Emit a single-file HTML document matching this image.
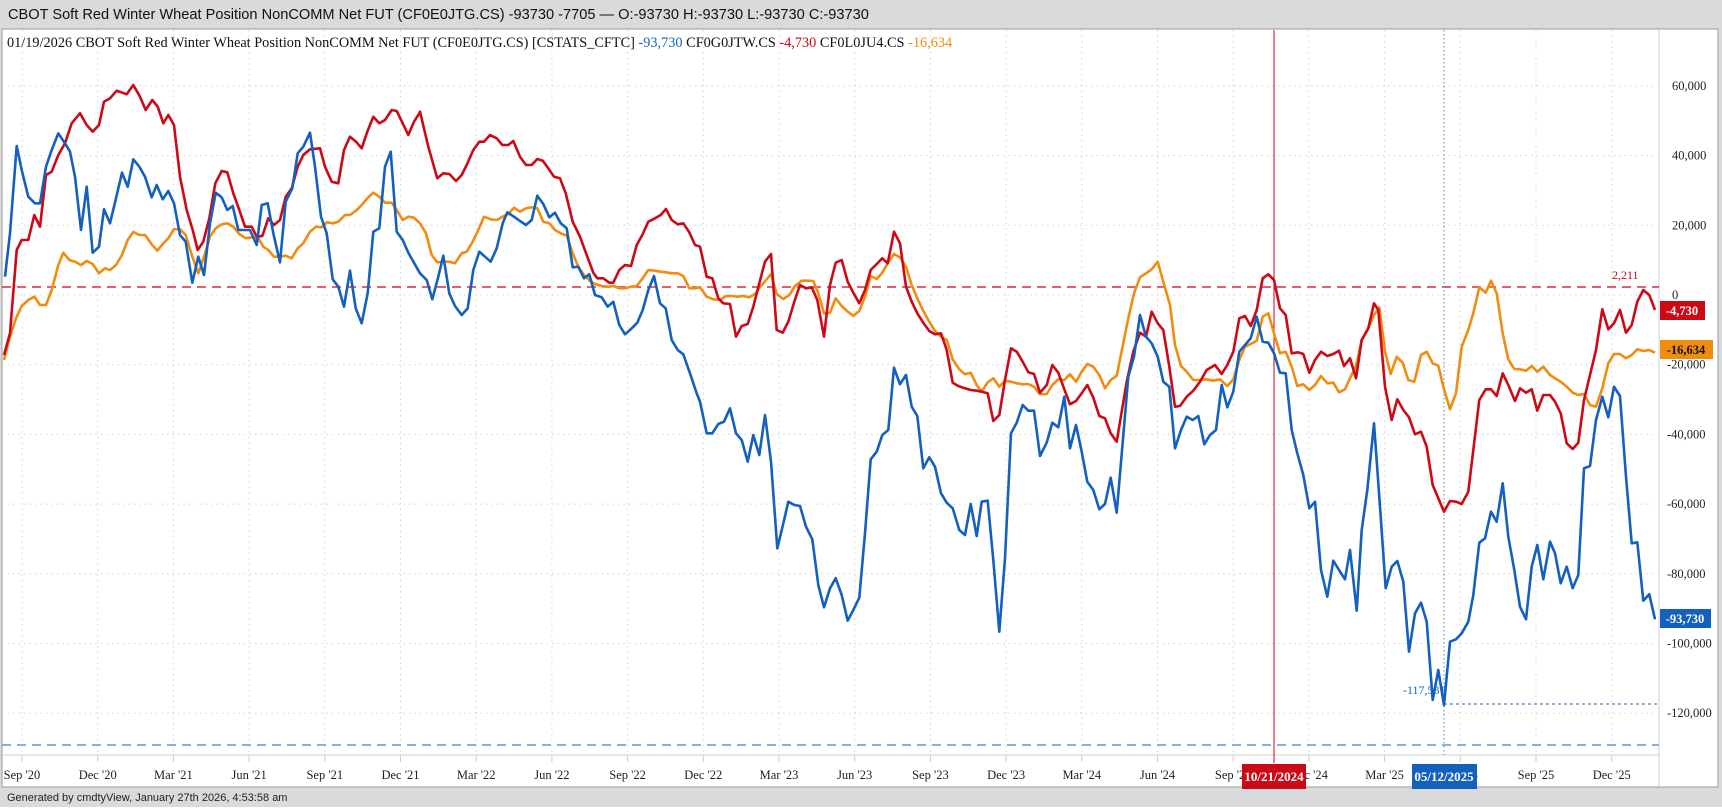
<!DOCTYPE html>
<html><head><meta charset="utf-8">
<style>
html,body{margin:0;padding:0;background:#fff;}
body{width:1722px;height:807px;overflow:hidden;}
svg text{font-family:"Liberation Serif",serif;}
</style></head>
<body>
<svg id="s" width="1722" height="807" viewBox="0 0 1722 807" xmlns="http://www.w3.org/2000/svg">
<rect x="0" y="0" width="1722" height="807" fill="#d9dadc"/>
<rect x="2" y="29" width="1716" height="758" fill="#fff" stroke="#9a9a9a" stroke-width="1"/>
<text x="8" y="19" font-size="14.6" fill="#111" style="font-family:'Liberation Sans',sans-serif">CBOT Soft Red Winter Wheat Position NonCOMM Net FUT (CF0E0JTG.CS) -93730 -7705 — O:-93730 H:-93730 L:-93730 C:-93730</text>
<line x1="1659" y1="29" x2="1659" y2="787" stroke="#cfcfcf"/>
<line x1="2" y1="755" x2="1659" y2="755" stroke="#cfcfcf"/>
<g id="grid"></g>
<text x="7" y="47" font-size="14.3" fill="#111">01/19/2026 CBOT Soft Red Winter Wheat Position NonCOMM Net FUT (CF0E0JTG.CS) [CSTATS_CFTC] <tspan fill="#1565c0">-93,730</tspan> CF0G0JTW.CS <tspan fill="#d0021b">-4,730</tspan> CF0L0JU4.CS <tspan fill="#f08c10">-16,634</tspan></text>
<line x1="2" y1="287" x2="1659" y2="287" stroke="#d0021b" stroke-dasharray="9,6" stroke-width="1.2"/>
<text x="1612" y="279" font-size="12" fill="#d0021b">2,211</text>
<line x1="2" y1="745" x2="1659" y2="745" stroke="#7aa3dc" stroke-dasharray="9,6" stroke-width="1.8"/>
<line x1="1444" y1="704" x2="1659" y2="704" stroke="#4a85d4" stroke-dasharray="3,3" stroke-width="1.2"/>
<text x="1403" y="694" font-size="12" fill="#1565c0">-117,531</text>
<line x1="1444" y1="30" x2="1444" y2="755" stroke="#4a85d4" stroke-dasharray="1.5,2.5" stroke-width="1"/>
<line x1="1274" y1="30" x2="1274" y2="763" stroke="#d0021b" stroke-width="1"/>
<g id="series" fill="none" stroke-width="2.6" stroke-linejoin="round"></g>
<g id="ylab" font-size="12.5" fill="#222"></g>
<rect x="1660" y="301" width="45" height="19" fill="#cc0a17"/>
<text x="1682" y="315" font-size="12.5" fill="#fff" font-weight="bold" text-anchor="middle">-4,730</text>
<rect x="1660" y="340" width="53" height="19" fill="#f08c10"/>
<text x="1686" y="354" font-size="12.5" fill="#111" font-weight="bold" text-anchor="middle">-16,634</text>
<rect x="1660" y="609" width="51" height="19" fill="#1360bd"/>
<text x="1685" y="623" font-size="12.5" fill="#fff" font-weight="bold" text-anchor="middle">-93,730</text>
<g id="xlab" font-size="12.5" fill="#222" text-anchor="middle"></g>
<rect x="1242" y="764" width="64" height="25" fill="#cc0a17"/>
<text x="1274" y="781" font-size="13" fill="#fff" font-weight="bold" text-anchor="middle">10/21/2024</text>
<rect x="1412" y="764" width="65" height="25" fill="#1360bd"/>
<text x="1444" y="781" font-size="13" fill="#fff" font-weight="bold" text-anchor="middle">05/12/2025</text>
<text x="7" y="801" font-size="11" fill="#222" style="font-family:'Liberation Sans',sans-serif">Generated by cmdtyView, January 27th 2026, 4:53:58 am</text>
</svg>
<script>
var NS="http://www.w3.org/2000/svg";
function el(t,a,p,txt){var e=document.createElementNS(NS,t);for(var k in a)e.setAttribute(k,a[k]);if(txt)e.textContent=txt;document.getElementById(p).appendChild(e);return e;}
var labs=["Sep '20","Dec '20","Mar '21","Jun '21","Sep '21","Dec '21","Mar '22","Jun '22","Sep '22","Dec '22","Mar '23","Jun '23","Sep '23","Dec '23","Mar '24","Jun '24","Sep '24","Dec '24","Mar '25","Jun '25","Sep '25","Dec '25"];
for(var i=0;i<22;i++){var x=22+75.7*i;
el("line",{x1:x,y1:30,x2:x,y2:755,stroke:"#d4d4d4","stroke-dasharray":"1.5,4"},"grid");
el("line",{x1:x,y1:755,x2:x,y2:762,stroke:"#ccc"},"grid");
el("text",{x:x,y:779},"xlab",labs[i]);}
var yv=[60000,40000,20000,0,-20000,-40000,-60000,-80000,-100000,-120000];
yv.forEach(function(v){var y=295-v/20000*69.7;
el("line",{x1:2,y1:y,x2:1659,y2:y,stroke:"#d4d4d4","stroke-dasharray":"1.5,4"},"grid");
var s=v.toLocaleString("en-US");el("text",{x:(v<0?1667:1672),y:y+4},"ylab",s);});
function seg(str,ox,oy,lo,hi){var out=[];var m=str.match(/-?\d+(\.\d+)?/g).map(Number);
for(var i=0;i<m.length;i+=2){var zx=m[i];if(zx<lo||zx>=hi)continue;out.push([ox+zx/3,oy+m[i+1]/3]);}return out;}
var red=[].concat(
seg("(12,885),(30,820),(50,570),(65,540),(85,540),(103,465),(120,500),(138,345),(155,335),(175,285),(195,250),(215,190),(240,160),(260,195),(278,215),(297,195),(312,125),(330,115),(350,92),(380,103),(400,75),(420,110),(437,150),(457,120),(473,140),(490,190),(505,165),(522,195),(540,350),(560,450),(578,510),(593,570),(610,545),(628,475),(646,370),(665,333),(682,337),(700,400),(718,450),(735,500),(755,500),(770,530),(787,528),(805,475),(822,495),(840,480),(857,410),(875,385),(893,320),(910,285),(930,268),(960,265),(975,320),(995,365),(1015,370),(1032,270),(1050,230),(1068,245),(1085,265),(1102,215),(1120,170),(1138,190),(1155,180),(1175,150),(1190,153),(1208,190),(1225,225),(1242,185),(1260,157)",0,60,0,1261),
seg("(0,155),(25,260),(52,355),(70,340),(88,342),(108,363),(125,345),(140,315),(160,270),(178,245),(192,245),(210,225),(230,235),(247,255),(265,255),(280,243),(300,290),(318,315),(335,315),(352,297),(368,302),(385,325),(402,350),(420,355),(437,400),(458,485),(480,530),(500,585),(520,638),(532,655),(550,655),(568,668),(580,668),(598,630),(615,615),(633,618),(650,555),(667,525),(685,485),(705,475),(722,465),(738,447),(755,480),(773,493),(790,490),(808,517),(825,555)",420,60,0,840),
seg("(0,140),(20,230),(37,235),(55,295),(70,310),(90,312),(108,410),(125,378),(143,372),(160,320),(178,250),(195,185),(213,162),(230,390),(248,398),(265,365),(283,305),(300,255),(318,265),(335,262),(352,300),(372,410),(390,255),(407,188),(425,180),(443,245),(460,278),(478,310),(495,270),(512,210),(530,192),(547,175),(563,190),(582,95),(600,130),(618,260),(635,305),(652,340),(670,368),(688,393),(705,403),(723,400),(740,450),(758,548),(775,558),(795,565),(812,570),(830,572),(845,575),(863,580),(880,663),(898,645),(915,540),(933,445),(950,455),(968,485),(985,517),(1002,522),(1020,578),(1040,555),(1057,495),(1075,518),(1093,568),(1110,613),(1128,603),(1145,580),(1162,555),(1180,593),(1198,648),(1215,655),(1232,700),(1250,725)",700,200,0,1260),
seg("(20,545),(40,455),(60,398),(78,410),(95,335),(113,370),(130,390),(148,500),(165,620),(180,618),(200,590),(220,572),(240,545),(260,510),(285,495),(305,522),(322,495),(340,455),(358,355),(375,348),(392,378),(410,330),(428,235),(445,223),(462,240),(480,325),(497,345),(515,460),(535,457),(550,462),(568,518),(585,480),(603,455),(622,468),(640,462),(657,452),(672,498),(690,475),(708,535),(725,420),(745,385),(762,310),(775,330),(795,560),(815,660),(832,598),(850,630),(867,652),(885,703),(903,695),(920,740),(938,855),(955,895),(972,935),(990,903),(1008,905),(1025,912),(1045,875),(1060,750),(1078,600),(1097,568),(1113,568),(1130,588),(1148,520),(1165,555),(1185,603),(1200,565),(1218,578),(1235,568),(1252,632),(1270,585)",1120,200,0,1290),
seg("(330,435),(345,455),(362,490),(380,580),(398,597),(415,578),(432,450),(450,375),(468,300),(487,178),(505,238),(522,220),(540,180),(558,248),(575,225),(592,155),(610,120),(628,135),(645,180)",1440,250,330,700));
var org=[].concat(
seg("(12,900),(30,830),(48,775),(65,738),(85,720),(103,710),(120,735),(138,735),(155,690),(175,615),(190,578),(208,600),(225,605),(243,615),(260,603),(278,612),(297,640),(315,625),(330,630),(348,615),(366,585),(383,540),(400,516),(418,525),(435,525),(455,553),(472,572),(490,550),(505,535),(522,507),(540,508),(557,525),(577,590),(595,640),(612,590),(630,530),(647,505),(665,493),(682,490),(700,500),(718,522),(737,535),(757,532),(775,535),(790,560),(805,570),(822,590),(840,590),(857,587),(875,595),(893,565),(910,550),(930,515),(948,500),(965,502),(980,487),(1000,490),(1015,485),(1035,465),(1050,465),(1068,452),(1085,435),(1102,415),(1120,398),(1138,410),(1155,428),(1175,428),(1190,450),(1208,480),(1225,470),(1242,473)",0,60,0,1261),
seg("(0,490),(18,520),(35,585),(52,607),(70,605),(88,605),(105,610),(125,580),(140,575),(158,545),(175,510),(192,470),(212,478),(230,480),(248,470),(265,462),(282,443),(300,455),(318,445),(335,442),(352,445),(370,485),(388,490),(405,510),(422,520),(440,527),(458,580),(475,620),(492,645),(510,663),(525,672),(545,678),(565,680),(580,678),(598,685),(615,685),(633,680),(650,678),(668,655),(685,630),(705,632),(722,635),(738,637),(755,640),(773,640),(790,648),(808,685),(825,685)",420,60,0,840),
seg("(0,262),(20,290),(40,298),(60,300),(78,288),(95,288),(113,290),(130,288),(148,292),(165,282),(183,258),(200,238),(213,222),(230,282),(250,297),(268,285),(285,258),(305,242),(322,242),(340,243),(355,280),(372,340),(390,338),(407,295),(425,318),(443,335),(460,347),(478,333),(495,290),(512,228),(530,237),(547,218),(563,190),(582,162),(600,172),(618,200),(635,255),(652,295),(670,333),(688,365),(705,393),(723,410),(740,420),(758,478),(778,508),(795,523),(812,518),(830,555),(845,575),(863,547),(880,535),(898,560),(915,542),(933,545),(950,550),(968,553),(985,552),(1002,560),(1020,583),(1040,582),(1057,555),(1075,538),(1093,540),(1110,523),(1128,545),(1145,515),(1162,492),(1180,500),(1198,525),(1215,565),(1232,540),(1250,527)",700,200,0,1260),
seg("(25,355),(42,280),(60,232),(78,220),(95,208),(113,185),(130,245),(150,315),(165,435),(183,498),(200,515),(220,540),(240,540),(260,538),(280,542),(300,538),(322,558),(340,538),(358,480),(375,440),(392,432),(410,422),(428,350),(445,340),(462,400),(480,460),(497,455),(515,500),(532,558),(550,553),(568,570),(585,555),(603,528),(622,550),(640,548),(657,577),(675,568),(690,535),(708,498),(725,420),(745,385),(762,345),(778,322),(795,455),(812,522),(830,470),(848,488),(865,540),(883,545),(903,465),(920,455),(938,490),(955,497),(972,568),(990,628),(1008,580),(1025,440),(1045,390),(1060,340),(1078,262),(1097,278),(1113,242),(1130,280),(1148,400),(1165,478),(1183,507),(1200,508),(1218,512),(1235,498),(1252,515),(1270,500)",1120,200,0,1290),
seg("(330,375),(345,385),(362,395),(380,410),(398,428),(415,435),(432,432),(450,465),(468,470),(487,415),(505,340),(522,312),(540,312),(558,325),(575,315),(592,298),(610,303),(628,300),(645,308)",1440,250,330,700));
var blu=[].concat(
seg("(15,650),(30,520),(50,258),(65,330),(85,410),(105,430),(120,430),(138,320),(155,270),(175,220),(195,250),(210,275),(225,350),(243,510),(260,380),(278,578),(297,560),(312,448),(330,490),(348,415),(366,338),(383,380),(400,298),(418,320),(435,350),(455,412),(470,375),(488,418),(505,393),(522,430),(540,525),(557,545),(577,668),(595,590),(612,645),(630,490),(647,398),(665,412),(682,450),(698,438),(715,510),(750,510),(770,555),(785,435),(803,430),(820,520),(840,607),(857,425),(877,385),(893,280),(910,260),(930,218),(945,320),(963,470),(980,520),(998,658),(1015,680),(1032,740),(1050,632),(1067,745),(1085,790),(1103,700),(1120,515),(1138,505),(1155,320),(1172,275),(1190,515),(1208,540),(1225,578),(1243,610)",0,60,0,1261),
seg("(0,640),(20,660),(37,718),(55,650),(70,587),(88,700),(105,738),(125,765),(143,745),(160,630),(178,575),(195,590),(212,605),(230,565),(248,490),(262,457),(282,470),(300,483),(318,495),(335,480),(352,407),(370,432),(388,472),(405,458),(422,490),(440,505),(458,622),(475,620),(492,655),(508,643),(525,705),(545,712),(563,740),(580,725),(598,795),(615,823),(633,807),(652,788),(668,750),(685,690),(702,648),(720,730),(737,745),(755,840),(773,870),(790,883),(810,940),(830,1000)",420,60,0,840),
seg("(0,605),(20,700),(37,700),(55,672),(72,665),(90,625),(108,700),(125,720),(143,785),(160,705),(178,765),(195,645),(213,785),(232,1045),(248,978),(265,905),(283,915),(300,918),(318,980),(337,1018),(355,1155),(372,1222),(390,1165),(407,1135),(425,1185),(443,1262),(460,1230),(478,1193),(495,1000),(512,778),(530,755),(547,705),(565,690),(582,503),(600,553),(618,525),(635,620),(652,648),(670,805),(688,772),(705,800),(723,880),(740,908),(758,925),(778,990),(795,1005),(812,912),(830,1008),(845,905),(863,902),(880,1080),(898,1295),(915,1075),(933,700),(950,668),(968,615),(985,632),(1002,632),(1020,768),(1040,728),(1057,668),(1075,682),(1093,590),(1110,745),(1128,675),(1145,755),(1162,845),(1180,870),(1198,928),(1215,912),(1232,833),(1250,938)",700,200,0,1260),
seg("(25,530),(42,470),(60,345),(78,410),(95,430),(113,470),(130,545),(148,560),(165,745),(183,690),(200,650),(218,660),(235,648),(253,733),(270,705),(288,690),(305,555),(322,622),(340,575),(358,455),(375,435),(392,415),(410,350),(428,425),(445,428),(462,460),(480,518),(497,520),(515,690),(532,760),(550,825),(568,925),(585,905),(603,1110),(622,1190),(640,1082),(657,1110),(675,1138),(690,1050),(710,1232),(725,990),(742,870),(762,670),(780,920),(797,1165),(815,1100),(832,1083),(850,1145),(867,1355),(885,1240),(903,1208),(920,1265),(938,1500),(955,1410),(972,1515),(990,1325),(1008,1318),(1025,1300),(1045,1265),(1060,1185),(1078,1028),(1095,1015),(1113,935),(1130,965),(1148,850),(1165,1010),(1183,1110),(1200,1220),(1218,1258),(1235,1100),(1252,1035),(1270,1138)",1120,200,0,1290),
seg("(330,875),(345,910),(362,1000),(380,950),(398,1015),(415,975),(432,655),(450,648),(468,510),(487,440),(505,502),(522,410),(540,438),(558,680),(575,880),(592,877),(610,1052),(628,1033),(645,1108)",1440,250,330,700));
function path(pts,c){var d="M"+pts.map(function(p){return p[0].toFixed(1)+","+p[1].toFixed(1);}).join("L");el("path",{d:d,stroke:c},"series");}
path(org,"#f08c10");path(red,"#cc0a17");path(blu,"#1360bd");
</script>
</body></html>
